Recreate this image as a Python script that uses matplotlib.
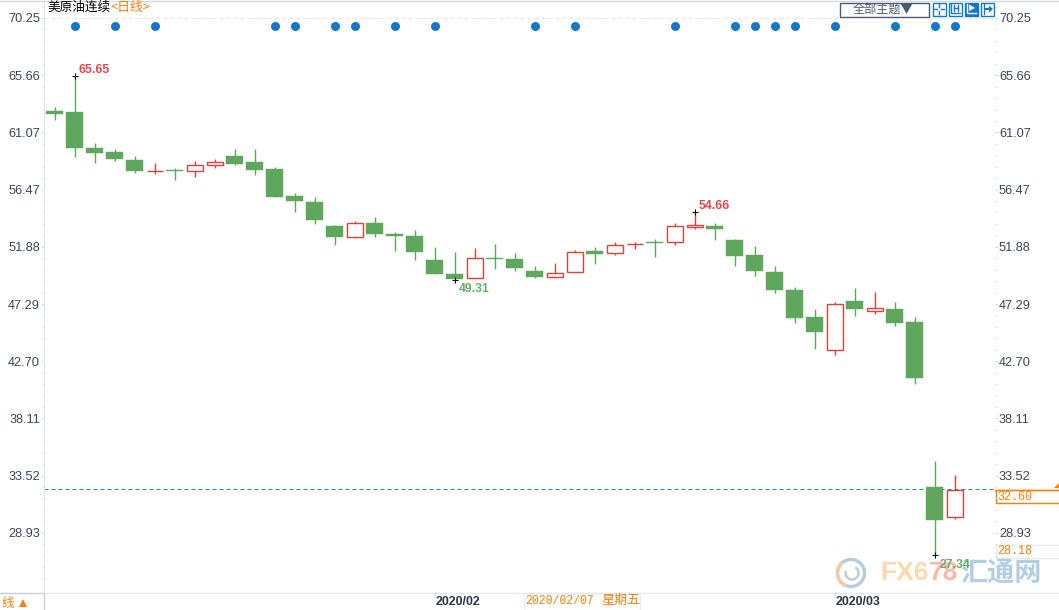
import matplotlib
matplotlib.use("Agg")
import matplotlib.pyplot as plt
from matplotlib.patches import Rectangle, Arc, Polygon
from matplotlib.ticker import FixedLocator
from matplotlib.transforms import ScaledTranslation

# ---- data: prices (top=upper body edge, bot=lower body edge)
highs = [63.11,65.60,60.22,59.74,59.18,58.61,58.21,58.77,58.93,59.74,59.74,58.29,56.21,55.88,53.64,53.96,
         54.28,53.07,53.24,51.87,51.47,51.79,52.11,51.39,50.35,50.59,51.63,51.87,52.27,52.27,52.51,53.79,
         54.66,53.79,52.51,51.95,50.35,48.66,46.89,47.46,48.58,48.26,47.46,46.25,34.70,33.57]
lows = [62.06,59.10,58.61,58.77,57.81,57.73,57.25,57.49,58.21,58.45,57.65,55.88,54.68,53.72,52.03,52.59,
        52.67,51.55,50.83,49.70,49.22,49.38,50.11,49.95,49.35,49.46,49.87,50.51,51.23,51.71,51.07,52.03,
        53.32,52.43,50.35,49.54,48.18,45.77,43.69,43.20,46.33,46.49,45.53,40.87,27.15,30.04]
tops = [62.79,62.71,59.82,59.50,58.85,57.97,58.05,58.45,58.70,59.18,58.70,58.13,55.96,55.48,53.56,53.79,
        53.79,52.92,52.75,50.83,49.70,50.99,50.99,50.91,49.95,49.78,51.47,51.55,52.03,52.11,52.27,53.56,
        53.64,53.56,52.43,51.23,49.87,48.42,46.25,47.30,47.54,46.98,46.89,45.85,32.61,32.37]
bots = [62.55,59.82,59.42,58.93,57.97,57.96,57.97,57.97,58.45,58.53,58.05,55.88,55.56,54.04,52.67,52.67,
        52.92,52.75,51.47,49.70,49.31,49.38,50.91,50.19,49.46,49.46,49.87,51.31,51.39,52.10,52.19,52.27,
        53.48,53.32,51.15,49.95,48.42,46.17,45.05,43.60,46.90,46.73,45.77,41.36,29.96,30.20]
up_days = [5,7,8,15,21,25,26,28,29,31,32,39,41,45]
event_days = [1,3,5,11,12,14,15,17,19,24,26,31,34,35,36,37,39,42,44,45]
extremes = [(1,65.60,"65.65",4,6,"#e2474a"),(32,54.66,"54.66",4,6,"#e2474a"),
            (20,49.22,"49.31",4,-9,"#68ad66"),(44,27.15,"27.34",5,-10,"#68ad66")]
y_ticks = [70.25,65.66,61.07,56.47,51.88,47.29,42.70,38.11,33.52,28.93]
y_labels = ["70.25","65.66","61.07","56.47","51.88","47.29","42.70","38.11","33.52","28.93"]
x_ticks = [19,39]
x_labels = ["2020/02","2020/03"]
last_level = 32.45
event_level = 69.61

GREEN="#5fa75c"; RED="#e2403c"; ORANGE="#ff7f0e"; BLUE="#1478c8"; AXC="#dfe7ee"; TXT="#39465a"
CJK=["Noto Sans CJK SC","DejaVu Sans"]
PX=0.72

plt.rcParams["font.family"]=["Liberation Sans","DejaVu Sans"]
fig=plt.figure(figsize=(10.59,6.10),dpi=100,facecolor="white")
W,H=1059,610
ax=fig.add_axes([44/W,(H-592)/H,(995-44)/W,592/H])
ax.set_xlim((44-54.5)/20,(995-54.5)/20)
ax.set_ylim(70.25-(592-18)/12.46,70.25+18/12.46)
ax.patch.set_alpha(0)

n=len(highs)
for i in range(n):
    up=i in up_days
    c=RED if up else GREEN
    h=tops[i]-bots[i]
    if up:
        ax.vlines(i,tops[i],highs[i],color=c,lw=1.0,zorder=3)
        ax.vlines(i,lows[i],bots[i],color=c,lw=1.0,zorder=3)
        ax.bar(i,h,bottom=bots[i],width=0.8,facecolor="white",edgecolor=c,linewidth=1.0,zorder=3)
    else:
        ax.vlines(i,lows[i],highs[i],color=c,lw=1.0,zorder=3)
        ax.bar(i,h,bottom=bots[i],width=0.85,facecolor=c,edgecolor=c,linewidth=0.3,zorder=3)

ax.scatter(event_days,[event_level]*len(event_days),s=42,color=BLUE,linewidths=0,zorder=4)
ax.axhline(70.25,color="#e6e6e6",lw=PX,ls=(0,(4,3)),zorder=1)
ax.axhline(last_level,color="#1a86ea",lw=PX,ls=(0,(4,3)),zorder=2)

for i,p,s,dx,dy,c in extremes:
    ax.plot([i],[p],marker="+",ms=4.6,mew=0.75,color="black",ls="none",zorder=5)
    ax.annotate(s,xy=(i,p),xytext=(dx*PX,dy*PX),textcoords="offset points",color=c,
                fontsize=8.8,fontweight="bold",ha="left",va="center",zorder=6)

for s in ["top","right","bottom"]:
    ax.spines[s].set_visible(False)
ax.spines["left"].set_color(AXC)
ax.spines["left"].set_linewidth(PX)

def minors():
    step=(y_ticks[0]-y_ticks[1])/5
    vals=[]
    v=y_ticks[0]+step
    k=-1
    while v>ax.get_ylim()[0]:
        if (k%5)!=0: vals.append(v)
        v-=step; k+=1
    return vals

ax.set_yticks(y_ticks,y_labels)
ax.yaxis.set_minor_locator(FixedLocator(minors()))
ax.tick_params(axis="y",which="major",length=2.5,width=PX,color="#cfd8e2",labelsize=9.2,labelcolor=TXT,pad=0.3)
ax.tick_params(axis="y",which="minor",length=1.5,width=PX,color="#cfd8e2")
ax.set_xticks(x_ticks,x_labels)
ax.tick_params(axis="x",length=3,width=PX,color="#cfd8e2",labelsize=8.9,labelcolor="#2b3547",pad=0)
for t in ax.get_xticklabels():
    t.set_ha("left"); t.set_fontweight("bold")
    t.set_transform(t.get_transform()+ScaledTranslation(1.5/100,0,fig.dpi_scale_trans))

axr=ax.twinx()
axr.set_ylim(ax.get_ylim())
for s in axr.spines.values():
    s.set_visible(False)
axr.set_yticks(y_ticks,y_labels)
axr.yaxis.set_minor_locator(FixedLocator(minors()))
axr.tick_params(axis="y",which="major",length=2.5,width=PX,color="#cfd8e2",labelsize=9.2,labelcolor=TXT,pad=0.3)
axr.tick_params(axis="y",which="minor",length=1.5,width=PX,color="#cfd8e2")

# ---- interface chrome, in pixel coordinates
ui=fig.add_axes([0,0,1,1])
ui.set_xlim(0,W); ui.set_ylim(H,0); ui.axis("off"); ui.patch.set_alpha(0)
ui.plot([0,W],[0.5,0.5],color="#d3d7e2",lw=1)
ui.plot([44,W],[592.5,592.5],color="#e4eaee",lw=1)
ui.plot([0,43.5,43.5],[592.5,592.5,610],color="#c6cfd6",lw=1)

ui.text(47,7.5,"美原油连续",family=CJK,fontsize=9.1,color="black",ha="left",va="center")
ui.text(110.5,7.5,"<日线>",family=CJK,fontsize=9.3,color=ORANGE,ha="left",va="center")
ui.text(1,603,"线",family=CJK,fontsize=9,color=ORANGE,ha="left",va="center")
ui.add_patch(Polygon([[19,607],[27,607],[23,599]],closed=True,color=ORANGE,lw=0))

# date box
ui.add_patch(Rectangle((523.5,592.5),116,17,fc="white",ec="#e9eef2",lw=1))
ui.text(525,600.5,"2020/02/07",family="Liberation Mono",fontsize=8.3,color=ORANGE,ha="left",va="center")
ui.text(601,600,"星期五",family=CJK,fontsize=9.4,color=ORANGE,ha="left",va="center")

# price boxes
ui.plot([995,W],[489.5,489.5],color=ORANGE,lw=1)
ui.add_patch(Rectangle((995.5,489.5),70,13,fc="white",ec=ORANGE,lw=1))
ui.text(997.5,496.5,"32.60",family="Liberation Mono",fontsize=8.5,color=ORANGE,ha="left",va="center")
ui.add_patch(Polygon([[1054,488],[1059,488],[1059,483]],closed=True,color=ORANGE,lw=0))
ui.add_patch(Rectangle((995.5,544.5),70,13,fc="white",ec="#e6ebef",lw=1))
ui.text(997.5,551,"28.18",family="Liberation Mono",fontsize=8.5,color=ORANGE,ha="left",va="center")

# topic selector + icons
ui.add_patch(Rectangle((839.5,2.5),89,14,fc="white",ec="#4a5a70",lw=1))
ui.text(883,9.5,"全部主题▼",family=CJK,fontsize=8.7,color="#4a5a70",ha="center",va="center")
for k,x0 in enumerate([932,948,964,980]):
    filled=k==2
    fg="white" if filled else BLUE
    ui.add_patch(Rectangle((x0+.5,2.5),13,13,fc=BLUE if filled else "white",ec=BLUE,lw=1))
    if k==0:
        ui.plot([x0+7,x0+7],[4,7],color=fg,lw=1); ui.plot([x0+7,x0+7],[11,14],color=fg,lw=1)
        ui.plot([x0+2,x0+5],[9,9],color=fg,lw=1); ui.plot([x0+9,x0+12],[9,9],color=fg,lw=1)
    elif k==1:
        ui.plot([x0+3,x0+3,x0+12],[4,13,13],color=fg,lw=1)
        ui.plot([x0+6,x0+6],[5,11],color=fg,lw=1); ui.plot([x0+10,x0+10],[5,11],color=fg,lw=1)
        ui.plot([x0+6,x0+10],[8,8],color=fg,lw=1)
    elif k==2:
        ui.plot([x0+3,x0+3,x0+12],[4,13,13],color=fg,lw=1)
        ui.add_patch(Polygon([[x0+5,4.5],[x0+5,11],[x0+11,8]],closed=True,color=fg,lw=0))
    else:
        ui.plot([x0+4,x0+4],[4,14],color=fg,lw=1)
        ui.plot([x0+6,x0+10],[9,9],color=fg,lw=1.5)
        ui.add_patch(Polygon([[x0+9,5.5],[x0+9,12.5],[x0+13,9]],closed=True,color=fg,lw=0))

# watermark
ui.add_patch(Arc((851,573),27,27,theta1=0,theta2=360,color="#b4cbe4",lw=2.4))
ui.add_patch(Arc((851,573),27,27,theta1=110,theta2=230,color="#f6c9a6",lw=2.4))
ui.add_patch(Arc((852,573),13,13,theta1=-60,theta2=200,color="#c3ccd4",lw=1.8))
ui.text(880,573,"FX6",fontsize=19,fontweight="bold",color="#fbd9ab",ha="left",va="center",zorder=1)
ui.text(928.5,573,"78",fontsize=19,fontweight="bold",color="#fbb9a5",ha="left",va="center",zorder=1)
ui.text(1001,573,"汇通网",family=CJK,fontsize=19.5,fontweight="bold",color="#b3cee4",ha="center",va="center",zorder=1)
ui.set_zorder(0)
ax.set_zorder(2); axr.set_zorder(3)

fig.savefig("out.png",dpi=100,facecolor="white")
